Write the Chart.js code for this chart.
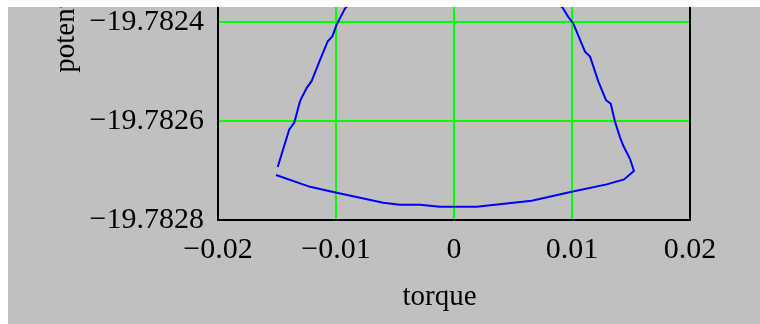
<!DOCTYPE html>
<html>
<head>
<meta charset="utf-8">
<script src="https://cdn.jsdelivr.net/npm/chart.js@4/dist/chart.umd.min.js"></script>
<style>
    body { margin: 0; background: #fff; }
    #frame { position: absolute; left: 8px; top: 7px; width: 752px; height: 317px; overflow: hidden; background: #c0c0c0; }
    #wrap { position: absolute; left: 0; top: -215px; width: 752px; height: 532px; }
</style>
</head>
<body>
<div id="frame"><div id="wrap"><canvas id="plot"></canvas></div></div>
<script>
// trajectory: bottom arc left -> right, up the right side, back down the left side
const torque = [
    -0.01508, -0.01220, -0.00994, -0.00599, -0.00458, -0.00288, -0.00119, 0.00192,
    0.00658, 0.00997, 0.01294, 0.01441, 0.01525,
    0.01492, 0.01435, 0.01407, 0.01364, 0.01328, 0.01288, 0.01223, 0.01153, 0.01110,
    0.01011, 0.00969, 0.00926, 0.00800,
    -0.00800, -0.00924, -0.00994, -0.01031, -0.01070, -0.01136, -0.01206, -0.01248,
    -0.01305, -0.01353, -0.01396, -0.01494
];
const potential = [
    -19.782709, -19.782733, -19.782745, -19.782765, -19.782769, -19.782769, -19.782773, -19.782773,
    -19.782761, -19.782743, -19.782728, -19.782718, -19.782701,
    -19.782677, -19.782650, -19.782633, -19.782601, -19.782565, -19.782558, -19.782520, -19.782470, -19.782460,
    -19.782403, -19.782390, -19.782373, -19.782340,
    -19.782340, -19.782373, -19.782405, -19.782429, -19.782439, -19.782477, -19.782519, -19.782533,
    -19.782560, -19.782603, -19.782617, -19.782693
];
const xTicks = [-0.02, -0.01, 0, 0.01, 0.02];
const yTicks = [-19.7828, -19.7826, -19.7824, -19.7822, -19.7820];

const points = torque.map((t, i) => ({ x: t, y: potential[i] }));
const minus = s => s.replace('-', '\u2212');
const serif = { family: '"Liberation Serif", "Times New Roman", serif', size: 30 };

// black frame on the right and top edges of the plot area
const frameEdges = {
    id: 'frameEdges',
    afterDraw(chart) {
        const a = chart.chartArea, c = chart.ctx;
        c.save();
        c.strokeStyle = '#000';
        c.lineWidth = 2;
        c.beginPath();
        c.moveTo(a.left, a.top);
        c.lineTo(a.right, a.top);
        c.lineTo(a.right, a.bottom);
        c.stroke();
        c.restore();
    }
};

const gridColor = ctx => (ctx.index === 0 || ctx.index === ctx.scale.ticks.length - 1) ? 'rgba(0,0,0,0)' : '#00ff00';

new Chart(document.getElementById('plot').getContext('2d'), {
    type: 'scatter',
    data: {
        datasets: [{
            data: points,
            showLine: true,
            borderColor: '#0000ff',
            borderWidth: 2,
            pointRadius: 0,
            tension: 0
        }]
    },
    options: {
        responsive: true,
        maintainAspectRatio: false,
        animation: false,
        layout: { padding: { top: 13, right: 70, left: 0, bottom: 0 } },
        plugins: { legend: { display: false }, tooltip: { enabled: false } },
        scales: {
            x: {
                type: 'linear',
                min: -0.02,
                max: 0.02,
                afterBuildTicks: s => { s.ticks = xTicks.map(v => ({ value: v })); },
                afterFit: s => { s.height = 104; },
                ticks: {
                    color: '#000',
                    font: serif,
                    padding: 12,
                    maxRotation: 0,
                    callback: v => minus(v === 0 ? '0' : String(Math.round(v * 100) / 100))
                },
                grid: { color: gridColor, lineWidth: 2, drawTicks: false },
                border: { display: true, color: '#000', width: 2 },
                // trailing spaces nudge the label left like the original
                title: { display: true, text: 'torque    ', color: '#000', font: { family: serif.family, size: 29 }, padding: { top: 13, bottom: 9 } }
            },
            y: {
                type: 'linear',
                min: -19.7828,
                max: -19.7820,
                afterBuildTicks: s => { s.ticks = yTicks.map(v => ({ value: v })); },
                afterFit: s => { s.width = 210; },
                ticks: {
                    color: '#000',
                    font: serif,
                    padding: 14,
                    callback: v => minus(v.toFixed(4))
                },
                grid: { color: gridColor, lineWidth: 2, drawTicks: false },
                border: { display: true, color: '#000', width: 2 },
                title: { display: true, text: 'potential', color: '#000', font: { family: serif.family, size: 29 }, padding: { top: 41 } }
            }
        }
    },
    plugins: [frameEdges]
});
</script>
</body>
</html>
